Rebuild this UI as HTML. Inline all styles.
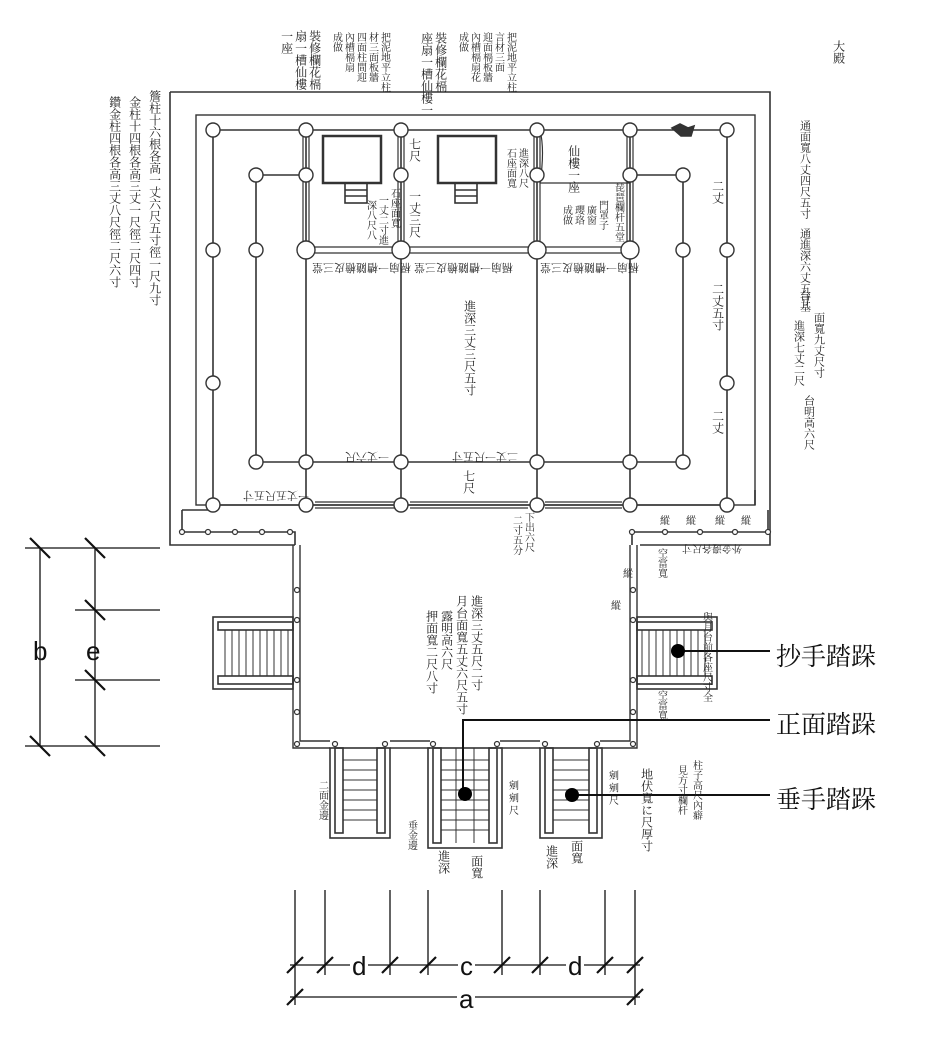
<!DOCTYPE html>
<html><head><meta charset="utf-8"><style>
body{margin:0;background:#fff;}
#w{position:relative;width:945px;height:1046px;overflow:hidden;background:#fff;}
svg{position:absolute;left:0;top:0;}
.v{position:absolute;writing-mode:vertical-rl;font-family:"Liberation Serif","Noto Serif CJK SC",serif;color:#222;line-height:1.05;}
.s{font-size:10px;}
.m{font-size:12px;}
.r{position:absolute;font-family:"Liberation Serif","Noto Serif CJK SC",serif;font-size:11px;color:#222;transform:rotate(180deg);white-space:nowrap;}
.lab{position:absolute;font-family:"Liberation Serif","Noto Serif CJK SC",serif;font-size:25px;color:#111;}
.l{position:absolute;font-family:"Liberation Sans",sans-serif;font-size:26px;color:#111;}
</style></head><body><div id="w">
<svg width="945" height="1046" viewBox="0 0 945 1046" fill="none" stroke="#333" stroke-width="1.6">
<path d="M170 92 H770 V545 H640"/>
<path d="M170 92 V545 H295"/>
<rect x="196" y="115" width="559" height="390" stroke-width="1.4"/>
<path d="M182 510 H210 M182 510 V532 H295 V545" />
<path d="M755 490 V505 M768 510 V532 H632 V545"/>
<g fill="#fff" stroke-width="1.2">
<circle cx="182" cy="532" r="2.5"/><circle cx="208" cy="532" r="2.5"/><circle cx="235" cy="532" r="2.5"/><circle cx="262" cy="532" r="2.5"/><circle cx="290" cy="532" r="2.5"/>
<circle cx="632" cy="532" r="2.5"/><circle cx="665" cy="532" r="2.5"/><circle cx="700" cy="532" r="2.5"/><circle cx="735" cy="532" r="2.5"/><circle cx="768" cy="532" r="2.5"/>
</g>
<path d="M213 130 H727 M213 130 V505 M727 130 V505 M213 505 H727"/>
<path d="M256 175 V462 H683 V175 M256 175 H306 M630 175 H683"/>
<path d="M306 130 V505 M401 130 V505 M537 130 V505 M630 130 V505"/>
<g stroke-width="1.2">
<path d="M306 247 H630 M306 253 H630"/>
<path d="M303 130 V250 M309 130 V250 M398 130 V250 M404 130 V250 M534 130 V250 M540 130 V250 M627 130 V250 M633 130 V250"/>
<path d="M315 502 H395 M315 508 H395 M410 502 H528 M410 508 H528 M545 502 H622 M545 508 H622"/>
<path d="M540 183 H630 M540 130 Q545 150 540 183"/>
</g>
<rect x="323" y="136" width="58" height="47" stroke-width="2.5"/>
<rect x="345" y="183" width="22" height="20"/>
<path d="M345 190 H367 M345 196 H367"/>
<rect x="438" y="136" width="58" height="47" stroke-width="2.5"/>
<rect x="455" y="183" width="22" height="20"/>
<path d="M455 190 H477 M455 196 H477"/>
<path d="M672 128 l8 -4 8 4 6 -2 -3 10 -10 0z" fill="#333"/>
<g fill="#fff" stroke-width="1.4">
<circle cx="213" cy="130" r="7"/><circle cx="306" cy="130" r="7"/><circle cx="401" cy="130" r="7"/><circle cx="537" cy="130" r="7"/><circle cx="630" cy="130" r="7"/><circle cx="727" cy="130" r="7"/>
<circle cx="256" cy="175" r="7"/><circle cx="306" cy="175" r="7"/><circle cx="401" cy="175" r="7"/><circle cx="537" cy="175" r="7"/><circle cx="630" cy="175" r="7"/><circle cx="683" cy="175" r="7"/>
<circle cx="213" cy="250" r="7"/><circle cx="256" cy="250" r="7"/><circle cx="306" cy="250" r="9"/><circle cx="401" cy="250" r="9"/><circle cx="537" cy="250" r="9"/><circle cx="630" cy="250" r="9"/><circle cx="683" cy="250" r="7"/><circle cx="727" cy="250" r="7"/>
<circle cx="213" cy="383" r="7"/><circle cx="727" cy="383" r="7"/>
<circle cx="256" cy="462" r="7"/><circle cx="306" cy="462" r="7"/><circle cx="401" cy="462" r="7"/><circle cx="537" cy="462" r="7"/><circle cx="630" cy="462" r="7"/><circle cx="683" cy="462" r="7"/>
<circle cx="213" cy="505" r="7"/><circle cx="306" cy="505" r="7"/><circle cx="401" cy="505" r="7"/><circle cx="537" cy="505" r="7"/><circle cx="630" cy="505" r="7"/><circle cx="727" cy="505" r="7"/>
</g>
<path d="M293 545 V748 H330 M300 545 V741 H330" stroke-width="1.4"/>
<path d="M637 545 V748 H600 M630 545 V741 H600" stroke-width="1.4"/>
<path d="M390 748 H430 M390 741 H430 M500 748 H540 M500 741 H540"/>
<g fill="#fff" stroke-width="1.2">
<circle cx="297" cy="590" r="2.5"/><circle cx="297" cy="620" r="2.5"/><circle cx="297" cy="680" r="2.5"/><circle cx="297" cy="712" r="2.5"/><circle cx="297" cy="744" r="2.5"/>
<circle cx="633" cy="590" r="2.5"/><circle cx="633" cy="620" r="2.5"/><circle cx="633" cy="680" r="2.5"/><circle cx="633" cy="712" r="2.5"/><circle cx="633" cy="744" r="2.5"/>
<circle cx="335" cy="744" r="2.5"/><circle cx="385" cy="744" r="2.5"/><circle cx="433" cy="744" r="2.5"/><circle cx="497" cy="744" r="2.5"/><circle cx="545" cy="744" r="2.5"/><circle cx="597" cy="744" r="2.5"/>
</g>
<rect x="213" y="617" width="80" height="72"/>
<rect x="218" y="622" width="75" height="8"/><rect x="218" y="676" width="75" height="8"/>
<path d="M225 630 V676 M232 630 V676 M239 630 V676 M246 630 V676 M253 630 V676 M260 630 V676 M267 630 V676 M274 630 V676 M281 630 V676 M288 630 V676" stroke-width="1"/>
<rect x="637" y="617" width="80" height="72"/>
<rect x="637" y="622" width="75" height="8"/><rect x="637" y="676" width="75" height="8"/>
<path d="M642 630 V676 M649 630 V676 M656 630 V676 M663 630 V676 M670 630 V676 M677 630 V676 M684 630 V676 M691 630 V676 M698 630 V676 M705 630 V676" stroke-width="1"/>
<rect x="330" y="748" width="60" height="90"/>
<rect x="335" y="748" width="8" height="85"/><rect x="377" y="748" width="8" height="85"/>
<path d="M343 760 H377 M343 770 H377 M343 780 H377 M343 790 H377 M343 800 H377 M343 810 H377 M343 820 H377" stroke-width="1"/>
<rect x="428" y="748" width="74" height="100"/>
<rect x="433" y="748" width="8" height="95"/><rect x="489" y="748" width="8" height="95"/>
<path d="M441 760 H489 M441 770 H489 M441 780 H489 M441 790 H489 M441 800 H489 M441 810 H489 M441 820 H489 M441 830 H489" stroke-width="1"/>
<path d="M456 748 V843 M474 748 V843" stroke-width="1"/>
<rect x="540" y="748" width="62" height="90"/>
<rect x="545" y="748" width="8" height="85"/><rect x="589" y="748" width="8" height="85"/>
<path d="M553 760 H589 M553 770 H589 M553 780 H589 M553 790 H589 M553 800 H589 M553 810 H589 M553 820 H589" stroke-width="1"/>
<g stroke="#111" stroke-width="2">
<path d="M678 651 H770"/>
<path d="M770 720 H463 V793"/>
<path d="M572 795 H770"/>
</g>
<g fill="#000" stroke="none">
<circle cx="678" cy="651" r="7"/><circle cx="465" cy="794" r="7"/><circle cx="572" cy="795" r="7"/>
</g>
<g stroke="#111" stroke-width="1.3">
<path d="M25 548 H160 M75 610 H160 M75 680 H160 M25 746 H160"/>
<path d="M40 548 V746 M95 548 V746"/>
</g>
<g stroke="#111" stroke-width="2.2">
<path d="M30 538 L50 558 M85 538 L105 558 M85 600 L105 620 M85 670 L105 690 M30 736 L50 756 M85 736 L105 756"/>
</g>
<g stroke="#111" stroke-width="1.3">
<path d="M295 890 V1005 M325 890 V975 M390 890 V975 M428 890 V975 M502 890 V975 M540 890 V975 M605 890 V975 M635 890 V1005"/>
<path d="M290 965 H640 M290 997 H640"/>
</g>
<g stroke="#111" stroke-width="2.2">
<path d="M287 973 L303 957 M317 973 L333 957 M382 973 L398 957 M420 973 L436 957 M494 973 L510 957 M532 973 L548 957 M597 973 L613 957 M627 973 L643 957 M287 1005 L303 989 M627 1005 L643 989"/>
</g>
</svg>
<div class="l" style="left:33px;top:636px">b</div>
<div class="l" style="left:86px;top:636px">e</div>
<div class="l" style="left:350px;top:951px;background:#fff;padding:0 2px">d</div>
<div class="l" style="left:458px;top:951px;background:#fff;padding:0 2px">c</div>
<div class="l" style="left:566px;top:951px;background:#fff;padding:0 2px">d</div>
<div class="l" style="left:457px;top:984px;background:#fff;padding:0 2px">a</div>
<div class="lab" style="left:776px;top:637px">抄手踏跺</div>
<div class="lab" style="left:776px;top:705px">正面踏跺</div>
<div class="lab" style="left:776px;top:780px">垂手踏跺</div>
<div class="v m" style="left:108px;top:96px">鑽金柱四根各高三丈八尺徑二尺六寸</div>
<div class="v m" style="left:128px;top:96px">金柱十四根各高三丈一尺徑二尺四寸</div>
<div class="v m" style="left:148px;top:90px">簷柱十六根各高一丈六尺五寸徑一尺九寸</div>
<div class="v m" style="left:280px;top:30px">一座</div>
<div class="v m" style="left:294px;top:30px">扇一槽仙樓</div>
<div class="v m" style="left:308px;top:30px">裝修欄花槅</div>
<div class="v s" style="left:330px;top:32px">成做</div>
<div class="v s" style="left:342px;top:32px">內槽槅扇</div>
<div class="v s" style="left:354px;top:32px">四面柱間迎</div>
<div class="v s" style="left:366px;top:32px">材三面板牆</div>
<div class="v s" style="left:378px;top:32px">把泥地平立柱</div>
<div class="v m" style="left:420px;top:32px">座扇一槽仙樓一</div>
<div class="v m" style="left:434px;top:32px">裝修欄花槅</div>
<div class="v s" style="left:456px;top:32px">成做</div>
<div class="v s" style="left:468px;top:32px">內槽槅扇花</div>
<div class="v s" style="left:480px;top:32px">迎面槅板牆</div>
<div class="v s" style="left:492px;top:32px">言材三面</div>
<div class="v s" style="left:504px;top:32px">把泥地平立柱</div>
<div class="v s" style="left:798px;top:120px;font-size:11px">通面寬八丈四尺五寸</div>
<div class="v s" style="left:798px;top:228px;font-size:11px">通進深六丈五寸</div>
<div class="v s" style="left:798px;top:290px;font-size:11px">台基</div>
<div class="v s" style="left:812px;top:312px;font-size:11px">面寬九丈尺寸</div>
<div class="v s" style="left:792px;top:320px;font-size:11px">進深七丈二尺</div>
<div class="v s" style="left:802px;top:395px;font-size:11px">台明高六尺</div>
<div class="v m" style="left:832px;top:40px">大殿</div>
<div class="v m" style="left:711px;top:180px">二丈</div>
<div class="v m" style="left:711px;top:283px">二丈五寸</div>
<div class="v m" style="left:711px;top:410px">二丈</div>
<div class="v m" style="left:408px;top:138px">七尺</div>
<div class="v m" style="left:408px;top:190px">一丈三尺</div>
<div class="v s" style="left:388px;top:188px">石座面寬</div>
<div class="v s" style="left:376px;top:195px">一丈二寸進</div>
<div class="v s" style="left:364px;top:200px">深八尺八</div>
<div class="v s" style="left:504px;top:148px">石座面寬</div>
<div class="v s" style="left:516px;top:148px">進深八尺</div>
<div class="v m" style="left:567px;top:145px">仙樓一座</div>
<div class="v s" style="left:612px;top:182px">琵琶欄杆五堂</div>
<div class="v s" style="left:596px;top:200px">門罩子</div>
<div class="v s" style="left:584px;top:205px">廣窗</div>
<div class="v s" style="left:572px;top:205px">瓔珞</div>
<div class="v s" style="left:560px;top:205px">成做</div>
<div class="r" style="left:312px;top:260px">槅扇一槽隨檐皮三堂</div>
<div class="r" style="left:414px;top:260px">槅扇一槽隨檐皮三堂</div>
<div class="r" style="left:540px;top:260px">槅扇一槽隨檐皮三堂</div>
<div class="v m" style="left:463px;top:300px">進深三丈三尺五寸</div>
<div class="r" style="left:345px;top:449px">一丈六尺</div>
<div class="r" style="left:452px;top:449px">二丈一尺五寸</div>
<div class="r" style="left:243px;top:488px">一丈五尺五寸</div>
<div class="v m" style="left:462px;top:470px">七尺</div>
<div class="v s" style="left:510px;top:515px">二寸五分</div>
<div class="v s" style="left:522px;top:512px">下出六尺</div>
<div class="v m" style="left:455px;top:595px">月台面寬五丈六尺五寸</div>
<div class="v m" style="left:470px;top:595px">進深三丈五尺二寸</div>
<div class="v m" style="left:440px;top:610px">露明高六尺</div>
<div class="v m" style="left:425px;top:610px">押面寬二尺八寸</div>
<div class="v s" style="left:700px;top:612px">與月台前各座尺寸全</div>
<div class="v s" style="left:655px;top:548px">空當寬</div>
<div class="v s" style="left:655px;top:690px">空當寬</div>
<div class="v s" style="left:620px;top:568px">縱</div>
<div class="v s" style="left:608px;top:600px">縱</div>
<div class="v m" style="left:640px;top:768px">地伏寬に尺厚寸</div>
<div class="v s" style="left:690px;top:760px">柱子高尺內癖</div>
<div class="v s" style="left:675px;top:765px">見方寸欄杆</div>
<div class="v s" style="left:316px;top:780px">二面金邊</div>
<div class="v s" style="left:405px;top:820px">垂金邊</div>
<div class="v m" style="left:437px;top:850px">進深</div>
<div class="v m" style="left:470px;top:855px">面寬</div>
<div class="v m" style="left:545px;top:845px">進深</div>
<div class="v m" style="left:570px;top:840px">面寬</div>
<div class="v s" style="left:506px;top:780px">剜 剜 尺</div>
<div class="v s" style="left:606px;top:770px">剜 剜 尺</div>
<div class="v s" style="left:738px;top:515px">縱</div>
<div class="v s" style="left:683px;top:515px">縱</div>
<div class="v s" style="left:712px;top:515px">縱</div>
<div class="v s" style="left:657px;top:515px">縱</div>
<div class="r" style="left:682px;top:542px;font-size:10px">外金邊各尺寸</div>
</div></body></html>
